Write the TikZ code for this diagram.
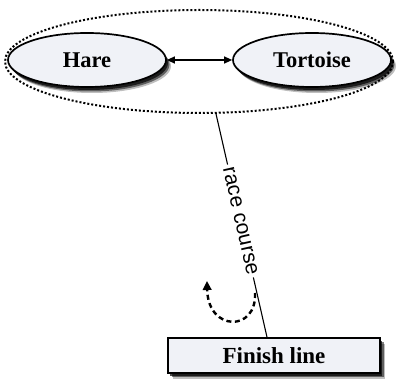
\documentclass[tikz,border=0pt]{standalone}
\usepackage{fontspec}
\setmainfont{Liberation Serif}
\newfontfamily\labelfont{Liberation Sans}
\usetikzlibrary{shapes.geometric,arrows.meta,shadows}
\definecolor{nodefill}{RGB}{240,242,247}
\tikzset{
  x=1pt, y=-1pt,
  shadowed/.style={
    drop shadow={shadow xshift=5pt, shadow yshift=-6pt, fill=black, opacity=0.25},
    drop shadow={shadow xshift=3.5pt, shadow yshift=-4.5pt, fill=black, opacity=0.5},
    drop shadow={shadow xshift=2pt, shadow yshift=-3pt, fill=black, opacity=0.7}},
  animal/.style={ellipse, draw=black, line width=1.7pt, fill=nodefill, shadowed,
    minimum width=158pt, minimum height=54pt, inner sep=0pt,
    font=\fontsize{22.5}{26}\selectfont\bfseries},
  group/.style={ellipse, draw=black, line width=2pt, dash pattern=on 2pt off 2pt,
    minimum width=388pt, minimum height=103pt, inner sep=0pt},
  goalbox/.style={rectangle, draw=black, line width=1.7pt, fill=nodefill, shadowed,
    minimum width=212pt, minimum height=35pt, inner sep=0pt,
    font=\fontsize{23}{26}\selectfont\bfseries},
  link/.style={line width=1.3pt, draw=black},
  course/.style={line width=1.1pt, draw=black},
  loop/.style={line width=2.4pt, dash pattern=on 5pt off 3.5pt, -{Triangle[length=9pt,width=8.5pt]}},
}
\begin{document}
\begin{tikzpicture}
\useasboundingbox (0,0) rectangle (397,387);
\node[group] (grp) at (199,61.5) {};
\node[animal] (hare) at (87,60) {Hare};
\node[animal] (tort) at (312,60) {Tortoise};
\draw[link, {Triangle[length=8pt,width=7pt]}-{Triangle[length=8pt,width=7pt]}] (hare.east) -- (tort.west);
\node[goalbox] (finish) at (274,355.5) {Finish line};
\draw[course] (grp.-72) -- node[sloped, fill=white, inner sep=3pt, pos=0.48,
  font=\labelfont\fontsize{21}{24}\selectfont] (lbl) {race course} ([xshift=-7pt]finish.north);
\coordinate (loopstart) at (255,293);
\coordinate (loopend) at (207,281);
\draw[loop] (loopstart) .. controls (257,332) and (208,332) .. (loopend);
\end{tikzpicture}
\end{document}
